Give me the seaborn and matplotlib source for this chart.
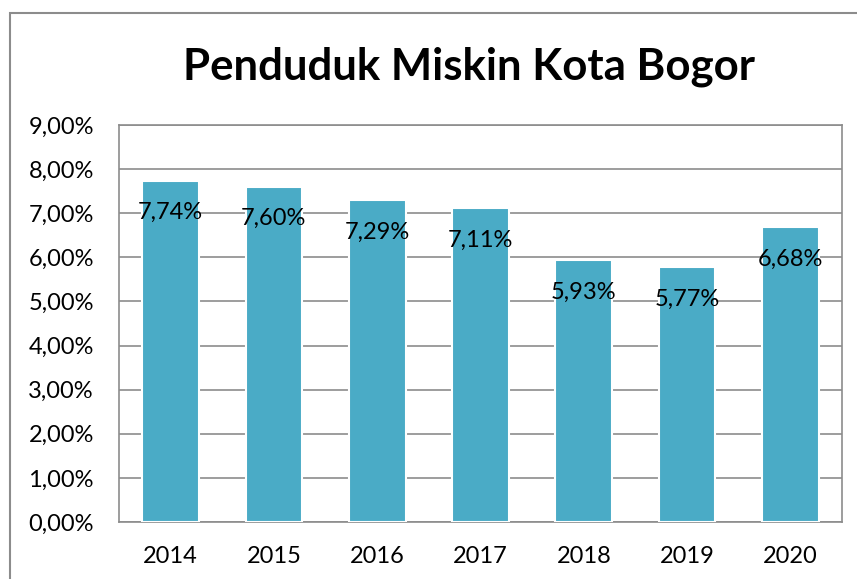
import matplotlib
matplotlib.use('Agg')
import matplotlib.pyplot as plt
import matplotlib.patches as patches
from matplotlib.ticker import FuncFormatter, MultipleLocator
import seaborn as sns
import pandas as pd

# ===== DATA =====
tahun = ["2014", "2015", "2016", "2017", "2018", "2019", "2020"]
persen = [7.74, 7.60, 7.29, 7.11, 5.93, 5.77, 6.68]

df = pd.DataFrame({"tahun": tahun, "persen": persen})

# ===== STYLE =====
sns.set_theme(style="white")
plt.rcParams['font.family'] = ['Lato', 'DejaVu Sans']

abu = "#8c8c8c"
biru = "#4aabc6"

fig = plt.figure(figsize=(8.57, 5.79), dpi=100)
ax = fig.add_axes([119/857, 1 - 522/579, 723/857, 397/579])

sns.barplot(data=df, x="tahun", y="persen", color=biru, saturation=1,
            width=0.55, edgecolor="white", linewidth=1.5, ax=ax, zorder=3)

ax.set_ylim(0, 9)
ax.set_xlim(-0.5, len(tahun) - 0.5)
ax.yaxis.set_major_locator(MultipleLocator(1))
ax.yaxis.set_major_formatter(FuncFormatter(lambda v, p: f"{v:.2f}%".replace(".", ",")))
ax.grid(axis="y", color=abu, linewidth=1.2, zorder=0)
ax.set_axisbelow(True)
for s in ax.spines.values():
    s.set_color(abu)
    s.set_linewidth(1.2)
ax.tick_params(axis="both", length=0, labelsize=17, colors="black")
ax.tick_params(axis="x", pad=17)
ax.tick_params(axis="y", pad=18)
ax.set_xlabel("")
ax.set_ylabel("")

# label nilai di dalam batang
for i, v in enumerate(persen):
    ax.annotate(f"{v:.2f}%".replace(".", ","), (i, v), xytext=(0, -23),
                textcoords="offset points", ha="center", va="center",
                fontsize=17, color="black", zorder=5)

# judul
fig.text(469/857, 1 - 67/579, "Penduduk Miskin Kota Bogor", ha="center",
         va="center", fontsize=31.5, fontweight="bold", color="black")

# bingkai luar
fig.patches.append(patches.Rectangle((10/857, -0.1), 1.2, 1 - 13/579 + 0.1,
                                     transform=fig.transFigure, fill=False,
                                     edgecolor=abu, linewidth=1.5))

plt.savefig("out.png", dpi=100)
plt.close()
